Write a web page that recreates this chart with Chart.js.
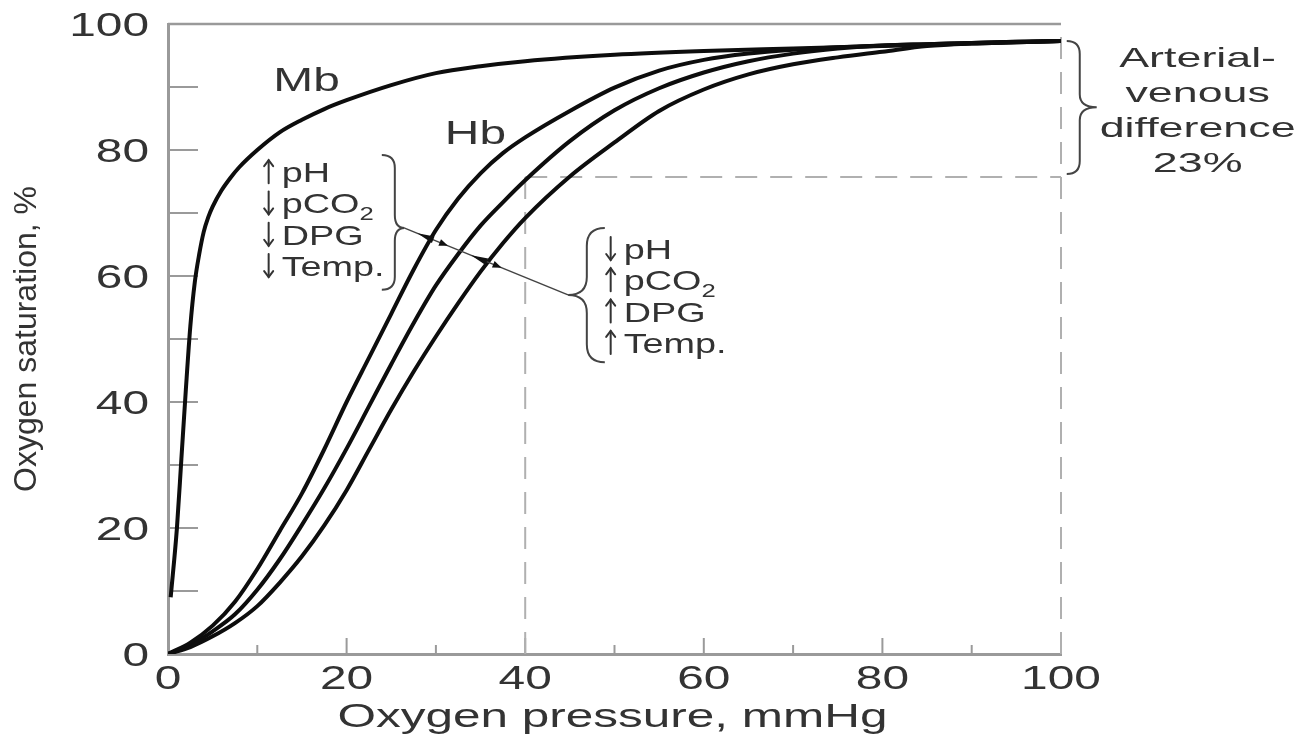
<!DOCTYPE html>
<html>
<head>
<meta charset="utf-8">
<script src="https://cdn.jsdelivr.net/npm/chart.js@4"></script>
<style>
  html, body { margin: 0; padding: 0; background: #fff; }
</style>
</head>
<body>
<canvas id="chart" width="1307" height="743"></canvas>
<script>
// oxygen binding curves (pressure in mmHg, saturation in %)
const hbPressure = [0, 2.5, 5, 7.5, 10, 12.5, 15, 17.5, 20, 22.5, 25, 27.5, 30, 32.5, 35, 37.5, 40, 45, 50, 55, 60, 65, 70, 75, 80, 85, 90, 95, 100];
const hbLeftShift = [0, 1.8, 4.5, 8.3, 13.5, 19.5, 25.5, 32.5, 40, 47, 54, 61, 67.3, 72.3, 76.3, 79.5, 82, 86.2, 89.9, 92.6, 94.3, 95.3, 95.9, 96.3, 96.6, 96.8, 97, 97.2, 97.3];
const hbNormal = [0, 1.4, 3.6, 6.3, 10.2, 15, 20.5, 26.3, 32.6, 39.3, 46, 52.5, 58.5, 63.5, 68, 71.7, 75.2, 81.4, 86.3, 89.8, 92.3, 94.1, 95.3, 96.1, 96.6, 96.8, 97, 97.2, 97.3];
const hbRightShift = [0, 1.1, 2.8, 4.9, 7.6, 11.3, 15.5, 20.4, 26, 32.4, 38.8, 44.8, 50.4, 55.7, 60.7, 65.2, 69.2, 75.8, 81.2, 86.2, 89.6, 92, 93.6, 94.7, 95.6, 96.5, 96.9, 97.1, 97.3];
const mbPressure = [0.3, 1, 1.5, 2, 2.5, 3, 3.5, 4, 4.5, 5, 6, 7, 8, 10, 12.5, 15, 17.5, 20, 25, 30, 35, 40, 50, 60, 70, 80, 90, 100];
const mbSaturation = [9, 20, 31, 42, 52, 59, 63.5, 67, 69.3, 71, 73.6, 75.6, 77.3, 80, 82.8, 84.8, 86.5, 87.9, 90.3, 92.2, 93.3, 94.1, 95.1, 95.7, 96.1, 96.5, 96.9, 97.3];

const venousPressure = 40;
const venousSat = 75.7;
const arterialSat = 97.3;

const leftLabels = [['up', 'pH'], ['down', 'pCO', '2'], ['down', 'DPG'], ['down', 'Temp.']];
const rightLabels = [['down', 'pH'], ['up', 'pCO', '2'], ['up', 'DPG'], ['up', 'Temp.']];
const avLabels = ['Arterial-', 'venous', 'difference', '23%'];

const INK = '#333';
const AXIS = '#9a9a9a';
const DASH = '#b0b0b0';
const FONT = '"Liberation Sans", Arial, sans-serif';

function pts(xs, ys) {
  return xs.map((x, i) => ({ x, y: ys[i] }));
}

// text is horizontally stretched in the source image
function stext(ctx, str, x, y, size, sx, align) {
  ctx.save();
  ctx.font = size + 'px ' + FONT;
  ctx.fillStyle = INK;
  ctx.textBaseline = 'alphabetic';
  ctx.textAlign = align || 'left';
  ctx.translate(x, y);
  ctx.scale(sx, 1);
  ctx.fillText(str, 0, 0);
  const w = ctx.measureText(str).width * sx;
  ctx.restore();
  return w;
}

function seg(ctx, x1, y1, x2, y2) {
  ctx.beginPath();
  ctx.moveTo(x1, y1);
  ctx.lineTo(x2, y2);
  ctx.stroke();
}

// thin arrow like the ↑ / ↓ of the figure, sitting on the baseline
function arrow(ctx, x, base, dir) {
  const top = base - 22, bot = base + 1;
  const tip = dir === 'up' ? top : bot;
  const s = dir === 'up' ? 1 : -1;
  ctx.save();
  ctx.strokeStyle = INK;
  ctx.lineWidth = 2;
  ctx.lineCap = 'round';
  seg(ctx, x, top, x, bot);
  ctx.beginPath();
  ctx.moveTo(x - 4.5, tip + s * 6);
  ctx.lineTo(x, tip);
  ctx.lineTo(x + 4.5, tip + s * 6);
  ctx.stroke();
  ctx.restore();
}

// r > 0: hooks to the left, tip to the right ( } ); r < 0: the other way ( { )
function brace(ctx, xl, top, bot, tipX, tipY, r) {
  const k = Math.abs(r);
  ctx.beginPath();
  ctx.moveTo(xl - r, top);
  ctx.quadraticCurveTo(xl, top, xl, top + k);
  ctx.lineTo(xl, tipY - k);
  ctx.quadraticCurveTo(xl, tipY, tipX, tipY);
  ctx.quadraticCurveTo(xl, tipY, xl, tipY + k);
  ctx.lineTo(xl, bot - k);
  ctx.quadraticCurveTo(xl, bot, xl - r, bot);
  ctx.stroke();
}

function labelBlock(ctx, X, Y, lines, x0, y0, dy) {
  lines.forEach((parts, i) => {
    const bx = X(x0);
    const by = Y(y0) + i * dy;
    arrow(ctx, bx + 6, by, parts[0]);
    const w = stext(ctx, parts[1], bx + 19, by, 28, 1.35);
    if (parts[2]) stext(ctx, parts[2], bx + 19 + w, by + 7, 19, 1.35);
  });
}

const frame = {
  id: 'frame',
  beforeDatasetsDraw(chart) {
    const { ctx, chartArea: a, scales: { x, y } } = chart;
    ctx.save();
    ctx.strokeStyle = AXIS;
    ctx.lineWidth = 2.5;
    seg(ctx, a.left, a.top, a.right, a.top);
    ctx.lineWidth = 2;
    for (let v = 10; v < 100; v += 10) {
      const py = y.getPixelForValue(v);
      seg(ctx, a.left, py, a.left + 30, py);
      const px = x.getPixelForValue(v);
      seg(ctx, px, a.bottom, px, a.bottom - (v % 20 === 0 ? 16 : 9));
    }
    ctx.strokeStyle = DASH;
    ctx.setLineDash([22, 13]);
    const vx = x.getPixelForValue(venousPressure);
    const vy = y.getPixelForValue(venousSat);
    seg(ctx, vx, a.bottom, vx, vy);
    seg(ctx, vx, vy, a.right, vy);
    seg(ctx, a.right, a.bottom, a.right, a.top);
    ctx.restore();
  },
  afterDraw(chart) {
    const { ctx, chartArea: a, scales: { x, y } } = chart;
    const X = v => x.getPixelForValue(v);
    const Y = v => y.getPixelForValue(v);

    // tick labels
    y.ticks.forEach(t => stext(ctx, String(t.value), a.left - 19, Y(t.value) + 12, 33, 1.45, 'right'));
    x.ticks.forEach(t => stext(ctx, String(t.value), X(t.value), a.bottom + 35, 33, 1.45, 'center'));
    stext(ctx, 'Oxygen pressure, mmHg', (a.left + a.right) / 2 - 2, 727, 33, 1.5, 'center');

    // curve names
    stext(ctx, 'Mb', X(11.8), Y(89.4), 33.5, 1.43);
    stext(ctx, 'Hb', X(31), Y(81), 33.5, 1.43);

    // effector labels
    labelBlock(ctx, X, Y, leftLabels, 10.6, 74.9, 31.3);
    labelBlock(ctx, X, Y, rightLabels, 48.9, 62.7, 31.3);

    ctx.save();
    ctx.strokeStyle = '#444';
    ctx.lineWidth = 2;
    brace(ctx, X(25.4), Y(79.2), Y(57.8), X(26.5), Y(67.6), 13);
    brace(ctx, X(46.9), Y(67.6), Y(46.3), X(44.8), Y(57), -18);
    brace(ctx, X(102.1), Y(arterialSat), Y(venousSat + 0.5), X(104), Y(86.8), 13);

    // shift arrow across the Hb curves
    const x1 = X(26.5), y1 = Y(67.6), x2 = X(44.8), y2 = Y(57);
    ctx.lineWidth = 1.5;
    seg(ctx, x1, y1, x2, y2);
    const len = Math.hypot(x2 - x1, y2 - y1);
    const ux = (x2 - x1) / len, uy = (y2 - y1) / len;
    ctx.fillStyle = '#111';
    [29.7, 35.7].forEach(cv => {
      const t = (X(cv) - x1) / (x2 - x1);
      const cx = x1 + t * (x2 - x1), cy = y1 + t * (y2 - y1);
      ctx.beginPath();
      ctx.moveTo(cx - ux * 17, cy - uy * 17);
      ctx.lineTo(cx - uy * 3.5, cy + ux * 3.5);
      ctx.lineTo(cx + uy * 3.5, cy - ux * 3.5);
      ctx.closePath();
      ctx.fill();
      const hx = cx + ux * 16, hy = cy + uy * 16;
      ctx.beginPath();
      ctx.moveTo(hx, hy);
      ctx.lineTo(hx - ux * 9 - uy * 3.5, hy - uy * 9 + ux * 3.5);
      ctx.lineTo(hx - ux * 9 + uy * 3.5, hy - uy * 9 - ux * 3.5);
      ctx.closePath();
      ctx.fill();
    });
    ctx.restore();

    // arterial-venous note
    avLabels.forEach((s, i) => stext(ctx, s, X(115.3), Y(93.2) + i * 35, 28, 1.6, 'center'));
  }
};

const curve = {
  borderColor: '#0d0d0d',
  borderWidth: 4,
  pointRadius: 0,
  fill: false,
  cubicInterpolationMode: 'monotone'
};

new Chart(document.getElementById('chart'), {
  type: 'line',
  data: {
    datasets: [
      { label: 'Mb', data: pts(mbPressure, mbSaturation), ...curve },
      { label: 'Hb (↑pH, ↓pCO2, ↓DPG, ↓Temp.)', data: pts(hbPressure, hbLeftShift), ...curve },
      { label: 'Hb', data: pts(hbPressure, hbNormal), ...curve },
      { label: 'Hb (↓pH, ↑pCO2, ↑DPG, ↑Temp.)', data: pts(hbPressure, hbRightShift), ...curve }
    ]
  },
  options: {
    responsive: false,
    animation: false,
    events: [],
    layout: { padding: { left: 0, right: 246, top: 24, bottom: 0 } },
    plugins: { legend: { display: false }, tooltip: { enabled: false } },
    scales: {
      x: {
        type: 'linear',
        min: 0,
        max: 100,
        ticks: { stepSize: 20, display: false },
        grid: { display: false },
        border: { display: true, color: AXIS, width: 3 },
        afterFit: s => { s.height = 89; }
      },
      y: {
        type: 'linear',
        min: 0,
        max: 100,
        ticks: { stepSize: 20, display: false },
        grid: { display: false },
        border: { display: true, color: AXIS, width: 3 },
        title: {
          display: true,
          text: 'Oxygen saturation, %',
          color: INK,
          font: { family: 'Liberation Sans', size: 32 },
          padding: { top: 8, bottom: 0 }
        },
        afterFit: s => { s.width = 168; }
      }
    }
  },
  plugins: [frame]
});
</script>
</body>
</html>
